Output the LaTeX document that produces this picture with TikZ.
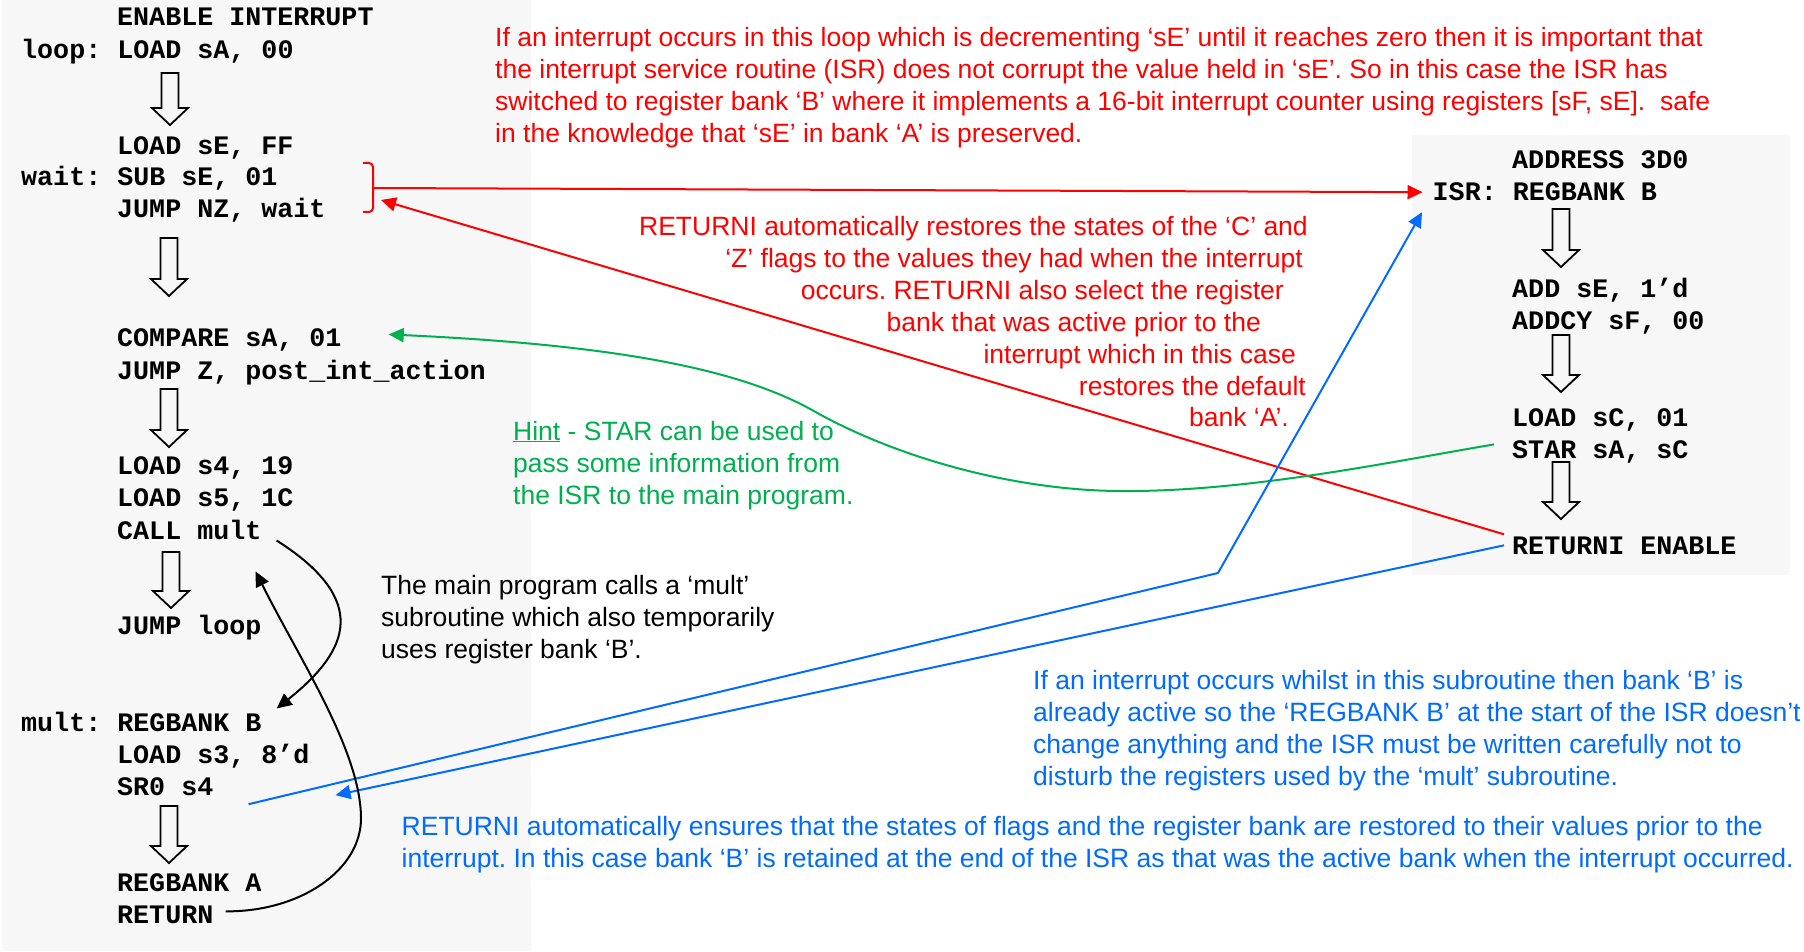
\documentclass[tikz,border=0pt]{standalone}
\usepackage{fontspec}
\setmainfont{Liberation Sans}
\newfontfamily\codefont{Liberation Mono}
\usetikzlibrary{arrows.meta,calc}
\definecolor{panelgray}{RGB}{247,247,247}
\definecolor{ared}{RGB}{255,0,0}
\definecolor{agreen}{RGB}{0,176,80}
\definecolor{ablue}{RGB}{0,108,255}
\frenchspacing
\tikzset{
  code/.style={font=\codefont\bfseries\fontsize{26.7}{32}\selectfont, anchor=base west, inner sep=0pt},
  note/.style={font=\fontsize{26.5}{32}\selectfont, anchor=base west, inner sep=0pt},
  noter/.style={note, anchor=base east},
  blockarrow/.style={draw=black, line width=1.8pt, line join=miter},
  conn/.style={line width=2pt, -{Triangle[length=15pt,width=14pt]}},
}
\newcommand{\bigdown}[3]{\draw[blockarrow] ({#1-8.5},#2) -- ({#1+8.5},#2) -- ({#1+8.5},{#3-17}) -- ({#1+18},{#3-17}) -- (#1,#3) -- ({#1-18},{#3-17}) -- ({#1-8.5},{#3-17}) -- cycle;}
\begin{document}
\begin{tikzpicture}[x=1pt,y=-1pt]
\useasboundingbox (0,0) rectangle (1804,952);
\fill[white] (0,0) rectangle (1804,952);
% panels
\fill[panelgray] (2,0) rectangle (531,951);
\fill[panelgray] (1412,135) rectangle (1790,575);

% left code
\node[code] (enable) at (117,26) {ENABLE INTERRUPT};
\node[code] (loop) at (21,59) {loop: LOAD sA, 00};
\node[code] (loadse) at (117,155) {LOAD sE, FF};
\node[code] (wait) at (21,186) {wait: SUB sE, 01};
\node[code] (jnz) at (117,218) {JUMP NZ, wait};
\node[code] (compare) at (117,346) {COMPARE sA, 01};
\node[code] (jz) at (117,379) {JUMP Z, post\_int\_action};
\node[code] (ls4) at (117,474) {LOAD s4, 19};
\node[code] (ls5) at (117,506) {LOAD s5, 1C};
\node[code] (call) at (117,539) {CALL mult};
\node[code] (jloop) at (117,634) {JUMP loop};
\node[code] (mult) at (21,731) {mult: REGBANK B};
\node[code] (ls3) at (117,763) {LOAD s3, 8’d};
\node[code] (sr0) at (117,795) {SR0 s4};
\node[code] (rba) at (117,891) {REGBANK A};
\node[code] (ret) at (117,923) {RETURN};

% right code
\node[code] (address) at (1512,169) {ADDRESS 3D0};
\node[code] (isr) at (1432.5,201) {ISR: REGBANK B};
\node[code] (add) at (1512,297) {ADD sE, 1’d};
\node[code] (addcy) at (1512,329) {ADDCY sF, 00};
\node[code] (loadsc) at (1512,426) {LOAD sC, 01};
\node[code] (star) at (1512,458) {STAR sA, sC};
\node[code] (returni) at (1512,554) {RETURNI ENABLE};

% block arrows
\bigdown{170}{73}{125}
\bigdown{169}{238}{296}
\bigdown{169}{389}{447}
\bigdown{171}{552}{608}
\bigdown{169}{806}{863}
\bigdown{1561}{209}{267}
\bigdown{1561}{335}{392}
\bigdown{1561}{462}{519}

% red notes
\begin{scope}[text=ared]
\node[note] (r1) at (495,46.5) {If an interrupt occurs in this loop which is decrementing ‘sE’ until it reaches zero then it is important that};
\node[note] (r2) at (495,78.5) {the interrupt service routine (ISR) does not corrupt the value held in ‘sE’. So in this case the ISR has};
\node[note] (r3) at (495,110.5) {switched to register bank ‘B’ where it implements a 16-bit interrupt counter using registers [sF, sE].\ \ safe};
\node[note] (r4) at (495,142.5) {in the knowledge that ‘sE’ in bank ‘A’ is preserved.};
\node[noter] (m1) at (1308,235.5) {RETURNI automatically restores the states of the ‘C’ and};
\node[noter] (m2) at (1303,267) {‘Z’ flags to the values they had when the interrupt};
\node[noter] (m3) at (1284,299) {occurs. RETURNI also select the register};
\node[noter] (m4) at (1261,331) {bank that was active prior to the};
\node[noter] (m5) at (1296,363) {interrupt which in this case};
\node[noter] (m6) at (1306,395) {restores the default};
\node[noter] (m7) at (1289,426.5) {bank ‘A’.};
\end{scope}

% green hint
\begin{scope}[text=agreen]
\node[note] (h1) at (513,440) {\underline{Hint} - STAR can be used to};
\node[note] (h2) at (513,472) {pass some information from};
\node[note] (h3) at (513,504) {the ISR to the main program.};
\end{scope}

% black note
\node[note] (b1) at (381,594) {The main program calls a ‘mult’};
\node[note] (b2) at (381,626) {subroutine which also temporarily};
\node[note] (b3) at (381,658) {uses register bank ‘B’.};

% blue notes
\begin{scope}[text=ablue]
\node[note] (u1) at (1033,689) {If an interrupt occurs whilst in this subroutine then bank ‘B’ is};
\node[note] (u2) at (1033,721) {already active so the ‘REGBANK B’ at the start of the ISR doesn’t};
\node[note] (u3) at (1033,753) {change anything and the ISR must be written carefully not to};
\node[note] (u4) at (1033,785) {disturb the registers used by the ‘mult’ subroutine.};
\node[note] (v1) at (401.5,835) {RETURNI automatically ensures that the states of flags and the register bank are restored to their values prior to the};
\node[note] (v2) at (401.5,867) {interrupt. In this case bank ‘B’ is retained at the end of the ISR as that was the active bank when the interrupt occurred.};
\end{scope}

% red bracket and arrows
\draw[ared, line width=2pt] (363,163) -- (369,163) to[out=0,in=90] (373,167) -- (373,208) to[out=-90,in=0] (369,212) -- (363,212);
\coordinate (brk) at (373,188);
\draw[conn, ared] (brk) -- ($(isr.west)+(-10,0)$);
\draw[conn, ared] ($(returni.west)+(-8,-11)$) -- ($(brk)+(8,12)$);

% green curve
\coordinate (gmid) at (1122,491);
\coordinate (gmid2) at (812,410);
\draw[conn, agreen] ($(star.west)+(-18,-7)$) .. controls (1400,460) and (1250,492) .. (gmid) .. controls (1020,491) and (900,460) .. (gmid2) .. controls (740,370) and (620,345) .. ($(compare.east)+(47,-5)$);

% blue lines
\coordinate (kink) at (1218,573);
\draw[conn, ablue] ($(sr0.east)+(35,18)$) -- (kink) -- ($(isr.west)+(-10.5,20)$);
\draw[conn, ablue] ($(returni.west)+(-8,0)$) -- ($(sr0.east)+(122,9)$);

% black call/return curves
\draw[conn, black] ($(call.east)+(15,11)$) .. controls (370,600) and (350,650) .. ($(mult.east)+(15,-13)$);
\coordinate (rbend) at (361,817);
\draw[conn, black] ($(ret.east)+(12,-3)$) .. controls (300,912) and (362,870) .. (rbend) .. controls (360,750) and (300,660) .. ($(call.east)+(-6,42)$);
\end{tikzpicture}
\end{document}
